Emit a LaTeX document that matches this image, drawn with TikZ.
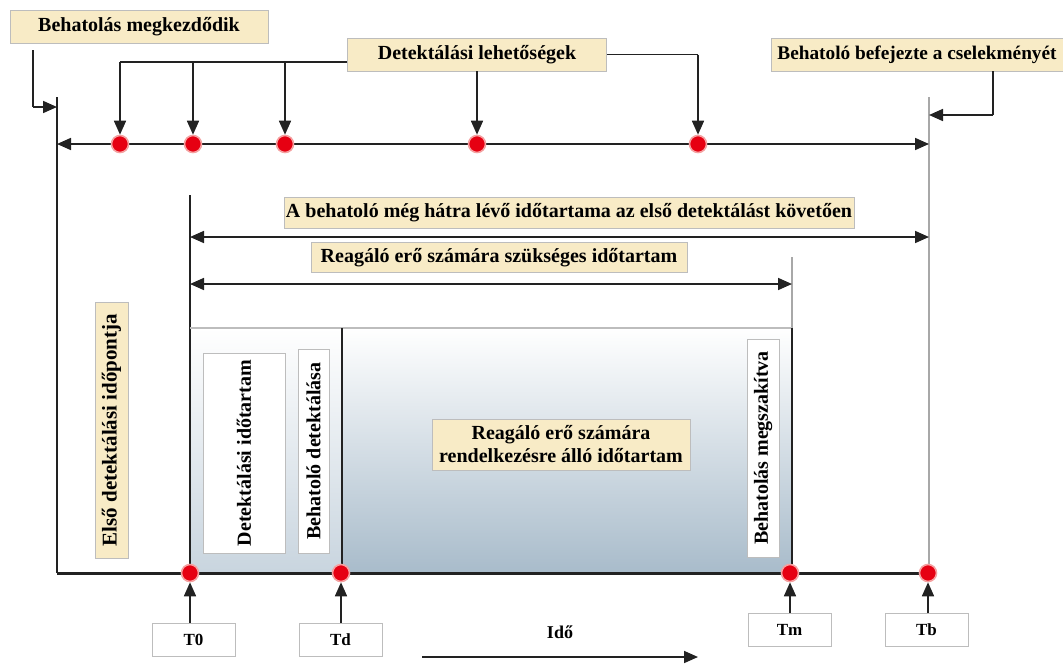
\documentclass[tikz,border=0pt]{standalone}
\usepackage{fontspec}
\setmainfont{Liberation Serif}
\usetikzlibrary{arrows.meta,calc}
\definecolor{tanfill}{HTML}{F8EBC6}
\definecolor{boxline}{HTML}{BDBDBD}
\definecolor{dotred}{HTML}{E60012}
\definecolor{dothalo}{HTML}{F5A0A0}
\definecolor{lineg}{HTML}{A8A8A8}
\definecolor{shadebot}{HTML}{A9BCCB}
\definecolor{shadebotl}{HTML}{C9D5DF}
\definecolor{ink}{HTML}{222222}
\begin{document}
\begin{tikzpicture}[x=1pt,y=-1pt,
  lbl/.style={draw=boxline, line width=0.8pt, fill=tanfill, inner sep=0pt,
    font=\bfseries\fontsize{20}{23}\selectfont, align=center},
  wbox/.style={draw=boxline, line width=0.8pt, fill=white, inner sep=0pt,
    font=\bfseries\fontsize{20}{23}\selectfont, align=center},
  tbox/.style={draw=boxline, line width=0.8pt, fill=white, inner sep=0pt,
    font=\bfseries\fontsize{17}{20}\selectfont, minimum width=83pt, minimum height=33pt},
  dot/.style={circle, fill=dotred, draw=dothalo, line width=1.6pt, minimum size=17pt, inner sep=0pt},
  conn/.style={draw=ink, line width=1.7pt},
  arr/.style={conn, -{Triangle[length=14pt,width=12pt]}},
  darr/.style={conn, {Triangle[length=14pt,width=12pt]}-{Triangle[length=14pt,width=12pt]}},
]
\useasboundingbox (0,0) rectangle (1063,664);

% ---- time frame: verticals and base line
\draw[ink, line width=2pt] (57,97) -- (57,573);
\draw[lineg, line width=2.5pt] (929,97) -- (929,573);
\draw[ink, line width=2pt] (190,195) -- (190,573);
\draw[lineg, line width=2pt] (792,257) -- (792,328);

% ---- response-time block with gradient panels
\shade[top color=white, bottom color=shadebotl] (191,328) rectangle (342,571);
\shade[top color=white, bottom color=shadebot] (342,328) rectangle (792,571);
\draw[boxline, line width=1.2pt] (190,328) -- (792,328);
\draw[ink, line width=2pt] (342,328) -- (342,573);
\draw[ink, line width=2.5pt] (792,328) -- (792,573);

\draw[ink, line width=3pt] (57,573) -- (937,573);

% ---- labels at the top
\node[lbl, minimum width=258pt, minimum height=33pt] (start) at (139,26.5) {Behatolás megkezdődik};
\node[lbl, minimum width=259pt, minimum height=33pt] (detect) at (477,54.5) {Detektálási lehetőségek};
\node[lbl, minimum width=292pt, minimum height=33pt,
  font=\bfseries\fontsize{19.3}{22}\selectfont] (finish) at (917,54.5) {Behatoló befejezte a cselekményét};

% ---- detection opportunities on the upper time line
\coordinate (tl) at (57,144);
\coordinate (tr) at (929,144);
\draw[darr] (tl) -- (tr);
\node[dot] (d1) at (120,144) {};
\node[dot] (d2) at (193,144) {};
\node[dot] (d3) at (285,144) {};
\node[dot] (d4) at (477,144) {};
\node[dot] (d5) at (698,144) {};

\coordinate (b1) at (120,62);
\coordinate (b2) at (193,62);
\coordinate (b3) at (285,62);
\coordinate (b5) at (698,54.5);
\draw[conn] (detect.west |- b1) -- (b1);
\draw[arr] (b1) -- (d1);
\draw[arr] (b2) -- (d2);
\draw[arr] (b3) -- (d3);
\draw[arr] (detect.south) -- (d4);
\draw[conn] (detect.east) -- (b5);
\draw[arr] (b5) -- (d5);

% ---- start and end pointers
\coordinate (s0) at (33,50);
\coordinate (s1) at (33,107);
\coordinate (s2) at (57,107);
\draw[conn] (s0) -- (s1);
\draw[arr] (s1) -- (s2);
\coordinate (f1) at (993,115);
\coordinate (f2) at (929,115);
\draw[conn] (finish.south -| f1) -- (f1);
\draw[arr] (f1) -- (f2);

% ---- duration spans
\node[lbl, minimum width=570pt, minimum height=31pt] (remain) at (569,212.5)
  {A behatoló még hátra lévő időtartama az első detektálást követően};
\coordinate (r0) at (190,237);
\coordinate (r1) at (929,237);
\draw[darr] (r0) -- (r1);
\node[lbl, minimum width=376pt, minimum height=30pt] (need) at (499,257.5)
  {Reagáló erő számára szükséges időtartam};
\coordinate (n0) at (190,284);
\coordinate (n1) at (792,284);
\draw[darr] (n0) -- (n1);

% ---- vertical captions
\node[lbl, rotate=90, minimum width=256pt, minimum height=33pt,
  font=\bfseries\fontsize{21}{24}\selectfont] (first) at (111.5,430)
  {Első detektálási időpontja};
\node[wbox, rotate=90, minimum width=200pt, minimum height=82pt] (ddur) at (244,453)
  {Detektálási időtartam};
\node[wbox, rotate=90, minimum width=204pt, minimum height=31pt] (ddet) at (313.5,451)
  {Behatoló detektálása};
\node[wbox, rotate=90, minimum width=218pt, minimum height=32pt] (stop) at (763,448)
  {Behatolás megszakítva};
\node[lbl, minimum width=258pt, minimum height=51pt] (avail) at (561,444.5)
  {Reagáló erő számára\\rendelkezésre álló időtartam};

% ---- key instants on the base line
\node[dot] (p0) at (190,573) {};
\node[dot] (pd) at (341,573) {};
\node[dot] (pm) at (790,573) {};
\node[dot] (pb) at (928,573) {};
\node[tbox] (T0) at (193.5,639.5) {T0};
\node[tbox] (Td) at (340.5,639.5) {Td};
\node[tbox] (Tm) at (789.5,630) {Tm};
\node[tbox] (Tb) at (926.5,630) {Tb};
\draw[arr] (T0.north -| p0) -- (p0);
\draw[arr] (Td.north -| pd) -- (pd);
\draw[arr] (Tm.north -| pm) -- (pm);
\draw[arr] (Tb.north -| pb) -- (pb);

% ---- time direction
\node[font=\bfseries\fontsize{18}{21}\selectfont] (ido) at (560,632) {Idő};
\coordinate (i0) at (422,657);
\coordinate (i1) at (698,657);
\draw[arr] (i0) -- (i1);
\end{tikzpicture}
\end{document}
